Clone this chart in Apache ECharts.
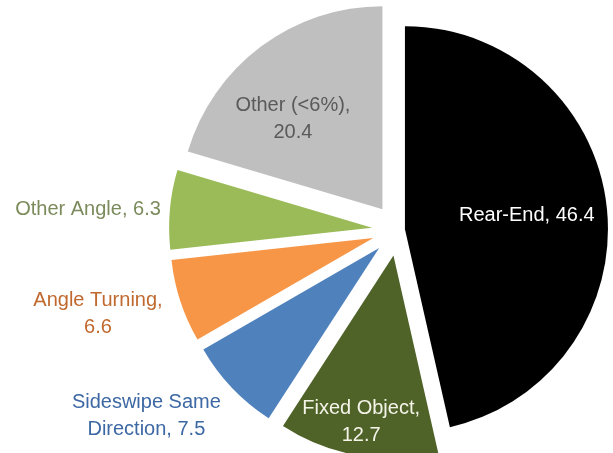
<!DOCTYPE html>
<html><head><meta charset="utf-8">
<script src="https://cdn.jsdelivr.net/npm/echarts@6/dist/echarts.min.js"></script>
<style>html,body{margin:0;padding:0;background:#fff}#c{width:613px;height:453px}</style>
</head><body><div id="c"></div>
<script>
// ---- data ----
const categories = ['Rear-End', 'Fixed Object', 'Sideswipe Same Direction', 'Angle Turning', 'Other Angle', 'Other (<6%)'];
const values = [46.4, 12.7, 7.5, 6.6, 6.3, 20.4];

// ---- styles / layout (not data) ----
const colors = ['#000000', '#4f6228', '#4f81bd', '#f79646', '#9bbb59', '#bfbfbf'];
const labelColors = ['#ffffff', '#f4f4e8', '#3d68a4', '#c0692e', '#7b8b5c', '#5a5a5a'];
const breakMode = ['none', 'afterName', 'inName', 'afterName', 'none', 'afterName'];
const explodeGroup = [0, 1, 1, 1, 1, 1];
const groupOffset = [7, 26];
const labelShift = [[18, -2], [-14, 64], [-157, 96], [-176, 43], [-180, -9], [-27, -6]];

function labelText(i) {
  const n = categories[i], v = values[i].toFixed(1);
  if (breakMode[i] === 'afterName') return n + ',\n' + v;
  if (breakMode[i] === 'inName') return n.replace(/ (\S+)$/, '\n$1') + ', ' + v;
  return n + ', ' + v;
}

function makeSeries(g) {
  return {
    type: 'pie',
    center: [398, 230],
    radius: 203,
    startAngle: 90,
    clockwise: true,
    selectedMode: 'multiple',
    selectedOffset: groupOffset[g],
    avoidLabelOverlap: false,
    silent: true,
    emphasis: { disabled: true },
    itemStyle: { borderWidth: 0 },
    label: {
      position: 'inside',
      fontFamily: 'Liberation Sans, Arial, sans-serif',
      fontSize: 20,
      lineHeight: 27,
      align: 'center'
    },
    labelLine: { show: false },
    labelLayout: function (p) {
      const s = labelShift[p.dataIndex];
      return { dx: s[0], dy: s[1], hideOverlap: false };
    },
    data: categories.map(function (name, i) {
      const own = explodeGroup[i] === g;
      return {
        name: name,
        value: values[i],
        selected: own,
        itemStyle: { color: own ? colors[i] : 'rgba(0,0,0,0)', borderWidth: 0 },
        select: { itemStyle: { color: own ? colors[i] : 'rgba(0,0,0,0)', borderWidth: 0 } },
        label: own ? { show: true, color: labelColors[i], formatter: labelText(i) } : { show: false }
      };
    })
  };
}

const chart = echarts.init(document.getElementById('c'), null, { renderer: 'canvas' });
chart.setOption({
  animation: false,
  backgroundColor: '#ffffff',
  series: [makeSeries(0), makeSeries(1)]
});
</script>
</body></html>
